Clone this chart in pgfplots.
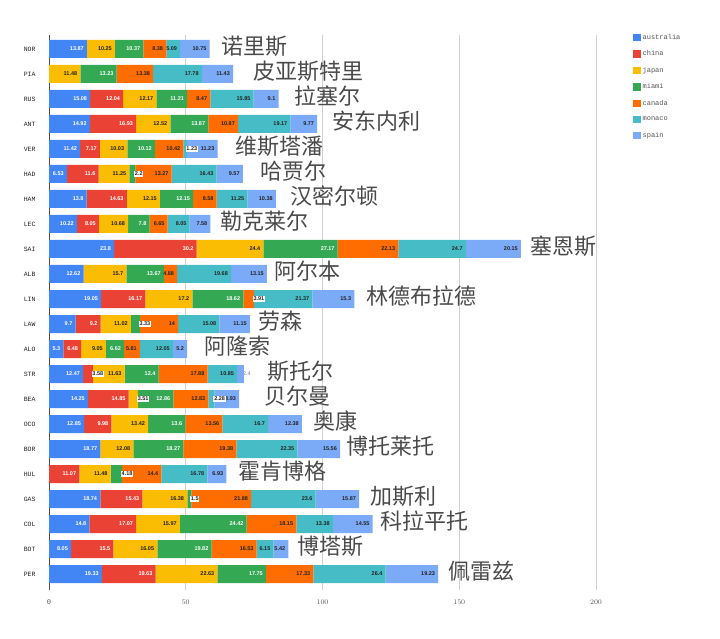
\documentclass[border=0pt]{standalone}
\usepackage{pgfplots}
\pgfplotsset{compat=1.18}
\usepackage{pgfplotstable}
\usepackage{fontspec}
\setmainfont{Liberation Sans}
\newfontfamily\monof{Liberation Mono}
\newfontfamily\cjk{Noto Sans CJK SC}
\definecolor{cau}{HTML}{4285F4}
\definecolor{cch}{HTML}{EA4335}
\definecolor{cja}{HTML}{FBBC04}
\definecolor{cmi}{HTML}{34A853}
\definecolor{cca}{HTML}{FF6D01}
\definecolor{cmo}{HTML}{46BDC6}
\definecolor{csp}{HTML}{7BAAF7}
\definecolor{dk}{HTML}{222222}
\definecolor{nm}{HTML}{4A4A4A}
\definecolor{tk}{HTML}{555555}
\protected\def\W#1{\textcolor{white}{#1}}
\protected\def\D#1{\textcolor{dk}{#1}}
\protected\def\B#1{\rlap{\hspace{2.5pt}\fboxsep=0.8pt\colorbox{white}{\textcolor{dk}{#1}}}}
\protected\def\G#1{\rlap{\hspace{3pt}\textcolor{black!35}{#1}}}
\protected\def\N#1#2{\rlap{\hspace{#1pt}\smash{\raisebox{-4pt}{\cjk\mdseries\fontsize{22}{24}\selectfont\textcolor{nm}{#2}}}}}

\pgfplotstableread{
y x lab
0 13.87 \W{13.87}
1 0 {}
2 15.08 \W{15.08}
3 14.92 \W{14.92}
4 11.42 \W{11.42}
5 6.53 \W{6.53}
6 13.8 \W{13.8}
7 10.22 \W{10.22}
8 23.8 \W{23.8}
9 12.62 \W{12.62}
10 19.05 \W{19.05}
11 9.7 \W{9.7}
12 5.3 \W{5.3}
13 12.47 \W{12.47}
14 14.25 \W{14.25}
15 12.85 \W{12.85}
16 18.77 \W{18.77}
17 0 {}
18 18.74 \W{18.74}
19 14.8 \W{14.8}
20 8.05 \W{8.05}
21 19.33 \W{19.33}
}\tau
\pgfplotstableread{
y x lab
0 0 {}
1 0 {}
2 12.04 \W{12.04}
3 16.93 \W{16.93}
4 7.17 \W{7.17}
5 11.6 \W{11.6}
6 14.63 \W{14.63}
7 8.05 \W{8.05}
8 30.2 \W{30.2}
9 0 {}
10 16.17 \W{16.17}
11 9.2 \W{9.2}
12 6.48 \W{6.48}
13 3.58 \B{3.58}
14 14.85 \W{14.85}
15 9.98 \W{9.98}
16 0 {}
17 11.07 \W{11.07}
18 15.43 \W{15.43}
19 17.07 \W{17.07}
20 15.5 \W{15.5}
21 19.63 \W{19.63}
}\tch
\pgfplotstableread{
y x lab
0 10.25 \D{10.25}
1 11.48 \D{11.48}
2 12.17 \D{12.17}
3 12.52 \D{12.52}
4 10.03 \D{10.03}
5 11.25 \D{11.25}
6 12.15 \D{12.15}
7 10.68 \D{10.68}
8 24.4 \D{24.4}
9 15.7 \D{15.7}
10 17.2 \D{17.2}
11 11.02 \D{11.02}
12 9.05 \D{9.05}
13 11.63 \D{11.63}
14 3.51 \B{3.51}
15 13.42 \D{13.42}
16 12.08 \D{12.08}
17 11.48 \D{11.48}
18 16.38 \D{16.38}
19 15.97 \D{15.97}
20 16.05 \D{16.05}
21 22.63 \D{22.63}
}\tja
\pgfplotstableread{
y x lab
0 10.37 \W{10.37}
1 13.23 \W{13.23}
2 11.21 \W{11.21}
3 13.87 \W{13.87}
4 10.12 \W{10.12}
5 2.2 \B{2.2}
6 12.15 \W{12.15}
7 7.8 \W{7.8}
8 27.17 \W{27.17}
9 13.67 \W{13.67}
10 18.62 \W{18.62}
11 3.33 \B{3.33}
12 6.62 \W{6.62}
13 12.4 \W{12.4}
14 12.86 \W{12.86}
15 13.6 \W{13.6}
16 18.27 \W{18.27}
17 4.18 \B{4.18}
18 1.5 \B{1.5}
19 24.42 \W{24.42}
20 19.82 \W{19.82}
21 17.75 \W{17.75}
}\tmi
\pgfplotstableread{
y x lab
0 8.38 \D{8.38}
1 13.38 \D{13.38}
2 8.47 \D{8.47}
3 10.87 \D{10.87}
4 10.42 \D{10.42}
5 13.27 \D{13.27}
6 8.58 \D{8.58}
7 6.65 \D{6.65}
8 22.13 \D{22.13}
9 4.88 \D{4.88}
10 3.91 \B{3.91}
11 14 \D{14}
12 5.81 \D{5.81}
13 17.88 \D{17.88}
14 12.83 \D{12.83}
15 13.56 \D{13.56}
16 19.38 \D{19.38}
17 14.4 \D{14.4}
18 21.88 \D{21.88}
19 18.15 \D{18.15}
20 16.53 \D{16.53}
21 17.33 \D{17.33}
}\tca
\pgfplotstableread{
y x lab
0 5.09 \D{5.09}
1 17.78 \D{17.78}
2 15.85 \D{15.85}
3 19.17 \D{19.17}
4 1.23 \B{1.23}
5 16.43 \D{16.43}
6 11.25 \D{11.25}
7 8.05 \D{8.05}
8 24.7 \D{24.7}
9 19.68 \D{19.68}
10 21.37 \D{21.37}
11 15.08 \D{15.08}
12 12.05 \D{12.05}
13 10.85 \D{10.85}
14 2.28 \B{2.28}
15 16.7 \D{16.7}
16 22.35 \D{22.35}
17 16.78 \D{16.78}
18 23.6 \D{23.6}
19 13.38 \D{13.38}
20 6.15 \D{6.15}
21 26.4 \D{26.4}
}\tmo
\pgfplotstableread{
y x lab
0 10.75 \D{10.75}\N{15}{诺里斯}
1 11.43 \D{11.43}\N{24}{皮亚斯特里}
2 9.1 \D{9.1}\N{19}{拉塞尔}
3 9.77 \D{9.77}\N{19}{安东内利}
4 11.23 \D{11.23}\N{21}{维斯塔潘}
5 9.57 \D{9.57}\N{21}{哈贾尔}
6 10.38 \D{10.38}\N{18}{汉密尔顿}
7 7.58 \D{7.58}\N{13}{勒克莱尔}
8 20.15 \D{20.15}\N{13}{塞恩斯}
9 13.15 \D{13.15}\N{11}{阿尔本}
10 15.3 \D{15.3}\N{15}{林德布拉德}
11 11.15 \D{11.15}\N{12}{劳森}
12 5.2 \D{5.2}\N{21}{阿隆索}
13 2.4 \G{2.4}\N{27}{斯托尔}
14 8.93 \D{8.93}\N{29}{贝尔曼}
15 12.38 \D{12.38}\N{15}{奥康}
16 15.56 \D{15.56}\N{10}{博托莱托}
17 6.93 \D{6.93}\N{15}{霍肯博格}
18 15.87 \D{15.87}\N{15}{加斯利}
19 14.55 \D{14.55}\N{11}{科拉平托}
20 5.42 \D{5.42}\N{12}{博塔斯}
21 19.23 \D{19.23}\N{14}{佩雷兹}
}\tsp

\pgfplotsset{
  seg/.style={fill=#1, draw=none, point meta=explicit symbolic, nodes near coords,
    visualization depends on={\thisrow{x}\as\incr},
    every node near coord/.append style={anchor=east,
      font=\fontsize{5.5}{6}\selectfont\bfseries, inner sep=0pt,
      xshift={1.3675pt*\incr-3pt}}},
}

\begin{document}
\begin{tikzpicture}
\useasboundingbox (0,0) rectangle (720pt,639pt);
\begin{axis}[
  at={(49pt,49pt)}, anchor=south west,
  scale only axis, width=547pt, height=555pt,
  xbar stacked, bar width=18pt,
  xmin=0, xmax=200,
  ymin=-0.56, ymax=21.64, y dir=reverse,
  ytick={0,...,21},
  yticklabels={NOR,PIA,RUS,ANT,VER,HAD,HAM,LEC,SAI,ALB,LIN,LAW,ALO,STR,BEA,OCO,BOR,HUL,GAS,COL,BOT,PER},
  xtick={50,100,150,200},
  extra x ticks={0}, extra x tick labels={0},
  extra x tick style={grid style={draw=black!70, line width=0.9pt}},
  xmajorgrids, grid style={draw=black!18, line width=0.6pt},
  axis line style={draw=none},
  major tick length=0pt,
  xticklabel style={font=\monof\fontsize{7}{8}\selectfont, text=tk, yshift=-6pt},
  yticklabel style={font=\monof\fontsize{6.5}{7}\selectfont, text=dk, xshift=-10pt},
  legend style={at={(1.062,1.009)}, anchor=north west, draw=none,
    font=\monof\fontsize{7}{7.5}\selectfont, text=tk, row sep=6pt,
    legend cell align=left},
  legend image code/.code={\fill[#1] (0pt,-3.6pt) rectangle (7.5pt,3.9pt);},
]
\addplot[seg=cau] table[x=x,y=y,meta=lab]{\tau};
\addplot[seg=cch] table[x=x,y=y,meta=lab]{\tch};
\addplot[seg=cja] table[x=x,y=y,meta=lab]{\tja};
\addplot[seg=cmi] table[x=x,y=y,meta=lab]{\tmi};
\addplot[seg=cca] table[x=x,y=y,meta=lab]{\tca};
\addplot[seg=cmo] table[x=x,y=y,meta=lab]{\tmo};
\addplot[seg=csp] table[x=x,y=y,meta=lab]{\tsp};
\legend{australia,china,japan,miami,canada,monaco,spain}
\end{axis}
\end{tikzpicture}
\end{document}
